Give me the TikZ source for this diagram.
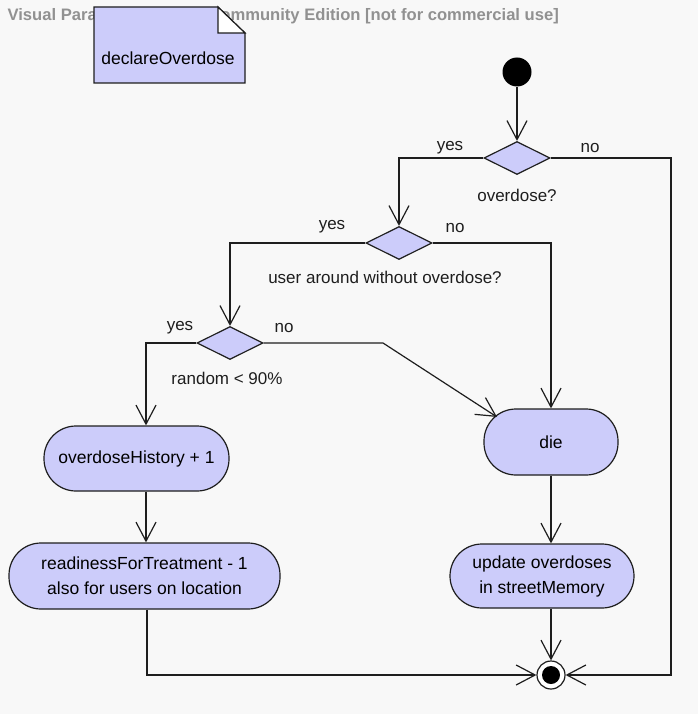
\documentclass[tikz,border=0pt]{standalone}
\usepackage{fontspec}
\setmainfont{Liberation Sans}
\usetikzlibrary{shapes.geometric,arrows.meta}
\definecolor{bg}{RGB}{248,248,248}
\definecolor{actfill}{RGB}{204,204,250}
\definecolor{hdr}{RGB}{145,145,145}
\definecolor{ink}{RGB}{30,30,30}
\newcommand{\nodefont}{\fontsize{17.5}{25}\selectfont}
\newcommand{\lblfont}{\fontsize{17}{21}\selectfont}
\begin{document}
\begin{tikzpicture}[x=1pt,y=-1pt,line width=1.2pt,
  flow/.style={draw=ink},
  arr/.style={draw=ink,-{Straight Barb[length=19pt,width=20pt]}},
  act/.style={draw=ink,fill=actfill,rounded corners=32pt,minimum height=65pt,
    inner sep=0pt,font=\nodefont,align=center},
  dec/.style={diamond,draw=ink,fill=actfill,minimum width=66pt,minimum height=33pt,inner sep=0pt},
  lbl/.style={font=\lblfont,text=ink,inner sep=0pt}]
\fill[bg] (0,0) rectangle (698,714);
\useasboundingbox (0,0) rectangle (698,714);
% header
\node[anchor=west,font=\fontsize{16.6}{20}\selectfont\bfseries,text=hdr,inner sep=0pt] (hdr) at (7,16)
  {Visual Paradigm for UML Community Edition [not for commercial use]};
% note
\filldraw[draw=ink,fill=actfill] (94,7) -- (218,7) -- (245,33) -- (245,83) -- (94,83) -- cycle;
\filldraw[draw=ink,fill=white] (218,7) -- (218,33) -- (245,33) -- cycle;
\node[font=\nodefont,inner sep=0pt] (note) at (168,58) {declareOverdose};
% nodes
\node[circle,fill=black,minimum size=29pt,inner sep=0pt] (init) at (517,72) {};
\node[dec] (d1) at (517,158) {};
\node[dec] (d2) at (399,243) {};
\node[dec] (d3) at (230,343) {};
\node[act,minimum width=185pt] (hist) at (136.5,458.5) {overdoseHistory + 1};
\node[act,minimum width=271pt,minimum height=66pt] (ready) at (144.5,576)
  {readinessForTreatment - 1\\also for users on location};
\node[act,minimum width=134pt,minimum height=66pt] (die) at (551,442) {die};
\node[act,minimum width=184pt,minimum height=64pt] (upd) at (542,576)
  {update overdoses\\in streetMemory};
\node[circle,draw=ink,fill=white,minimum size=28pt,inner sep=0pt,
  path picture={\fill[black] (path picture bounding box.center) circle (9pt);}] (final) at (551,675) {};
% labels
\node[lbl] (y1) at (450,148) {yes};
\node[lbl] (n1) at (590,148) {no};
\node[lbl] (q1) at (517,195) {overdose?};
\node[lbl] (y2) at (332,227) {yes};
\node[lbl] (n2) at (455,228) {no};
\node[lbl] (q2) at (385,277) {user around without overdose?};
\node[lbl] (y3) at (180,328) {yes};
\node[lbl] (n3) at (284,328) {no};
\node[lbl] (q3) at (227,378) {random < 90\%};
% connectors
\coordinate (r1) at (671,158);
\coordinate (k3) at (383,343);
\draw[arr] (init) -- (d1.north);
\draw[arr] (d1.west) -| (d2.north);
\draw[arr] (d1.east) -- (r1) |- (final.east);
\draw[arr] (d2.west) -| (d3.north);
\draw[arr] (d2.east) -| (die.north);
\draw[arr] (d3.west) -| ([xshift=9.5pt]hist.north);
\draw[arr] (d3.east) -- (k3) -- ([shift={(-54,-25)}]die.center);
\draw[arr] ([xshift=9.5pt]hist.south) -- ([xshift=9.5pt]hist.south |- ready.north);
\draw[arr] (die.south) -- (die.south |- upd.north);
\draw[arr] ([xshift=2.5pt]ready.south) |- (final.west);
\draw[arr] (final.north |- upd.south) -- (final.north);
\end{tikzpicture}
\end{document}
